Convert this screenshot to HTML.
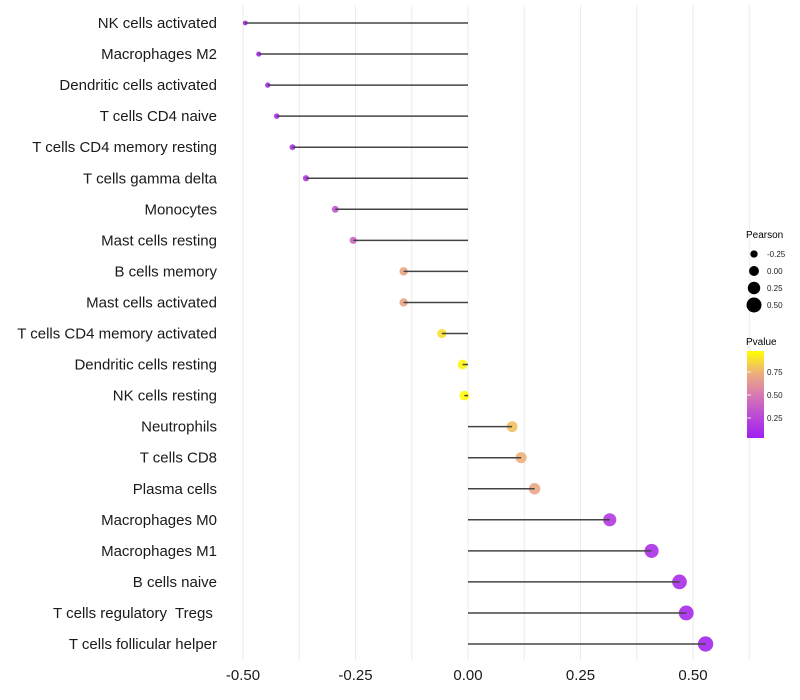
<!DOCTYPE html>
<html><head><meta charset="utf-8"><style>body{margin:0;background:#fff}svg{display:block;font-family:"Liberation Sans",sans-serif}text{white-space:pre}</style></head><body>
<svg id="chart" width="800" height="700">
<defs><linearGradient id="pg" x1="0" y1="1" x2="0" y2="0">
<stop offset="0" stop-color="#A020F0"/><stop offset="0.25" stop-color="#BB4AD6"/><stop offset="0.5" stop-color="#D87AB2"/><stop offset="0.75" stop-color="#EEB07A"/><stop offset="1" stop-color="#FFFF00"/></linearGradient></defs>
<g id="grid"></g><g id="points"></g><g id="marks"></g><g id="labels"></g>
<g>
<text x="746" y="238" font-size="10">Pearson</text>
<g id="sizeleg"></g>
<text x="746" y="345" font-size="10">Pvalue</text>
<rect x="747" y="351" width="17" height="87" fill="url(#pg)"/>
<g id="colleg"></g>
</g>
</svg>
<script>
const categories=["NK cells activated","Macrophages M2","Dendritic cells activated","T cells CD4 naive","T cells CD4 memory resting","T cells gamma delta","Monocytes","Mast cells resting","B cells memory","Mast cells activated","T cells CD4 memory activated","Dendritic cells resting","NK cells resting","Neutrophils","T cells CD8","Plasma cells","Macrophages M0","Macrophages M1","B cells naive","T cells regulatory  Tregs ","T cells follicular helper"];
const pearson=[-0.495,-0.465,-0.445,-0.425,-0.39,-0.36,-0.295,-0.255,-0.143,-0.143,-0.058,-0.012,-0.008,0.098,0.118,0.148,0.315,0.408,0.47,0.485,0.528];
const pvalue=[0.02,0.03,0.04,0.06,0.1,0.13,0.3,0.4,0.7,0.7,0.9,0.97,0.98,0.8,0.75,0.7,0.15,0.1,0.08,0.06,0.03];
const xTicks=[-0.5,-0.25,0,0.25,0.5];
const xTickLabels=["-0.50","-0.25","0.00","0.25","0.50"];
const sizeLegend=[-0.25,0,0.25,0.5];
const sizeLegendLabels=["-0.25","0.00","0.25","0.50"];
const colLegend=[0.25,0.5,0.75];
const colLegendLabels=["0.25","0.50","0.75"];
const NS="http://www.w3.org/2000/svg";
const xs=v=>468+v*450, ys=i=>23+i*31.05, rs=v=>2.4+(v+0.5)*5.1;
const stops=[[0,[160,32,240]],[0.25,[187,74,214]],[0.5,[216,122,178]],[0.75,[238,176,122]],[1,[255,255,0]]];
function col(p){for(let k=1;k<stops.length;k++){if(p<=stops[k][0]){const a=stops[k-1],b=stops[k],t=(p-a[0])/(b[0]-a[0]);return`rgb(${a[1].map((c,j)=>Math.round(c+(b[1][j]-c)*t)).join(',')})`;}}return'rgb(255,255,0)';}
function mk(tag,at,parent){const e=document.createElementNS(NS,tag);for(const k in at)e.setAttribute(k,at[k]);document.getElementById(parent).appendChild(e);return e;}
for(let g=-0.5;g<=0.75;g+=0.125){const l=mk('line',{x1:xs(g),x2:xs(g),y1:5,y2:660,stroke:'#ebebeb','stroke-width':1},'grid');

}
xTicks.forEach((v,i)=>{const t=mk('text',{x:xs(v),y:680,'font-size':15,'text-anchor':'middle',fill:'#1a1a1a'},'labels');t.textContent=xTickLabels[i];

});
categories.forEach((c,i)=>{const y=ys(i);
const t=mk('text',{x:217,y:y+5,'font-size':15,'text-anchor':'end',fill:'#1a1a1a'},'labels');t.textContent=c;


const p=mk('circle',{cx:xs(pearson[i]),cy:y,r:rs(pearson[i]),fill:col(pvalue[i]),'fill-opacity':0.9},'points');


const l=mk('line',{x1:xs(0),x2:xs(pearson[i]),y1:y,y2:y,stroke:'#444','stroke-width':1.5},'marks');

});
sizeLegend.forEach((v,i)=>{const y=254+i*17;const c=mk('circle',{cx:754,cy:y,r:rs(v),fill:'#000'},'sizeleg');


const t=mk('text',{x:767,y:y+3,'font-size':8,fill:'#222'},'sizeleg');t.textContent=sizeLegendLabels[i];

});
colLegend.forEach((v,i)=>{const y=441-v*92;const t=mk('text',{x:767,y:y+3,'font-size':8,fill:'#222'},'colleg');t.textContent=colLegendLabels[i];


const l=mk('line',{x1:747,x2:751,y1:y,y2:y,stroke:'#fff','stroke-width':0.8},'colleg');

});
</script>
</body></html>
